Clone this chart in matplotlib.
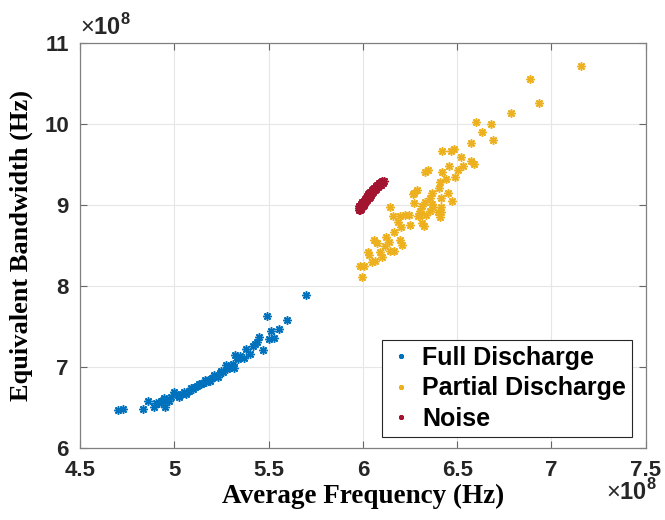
import matplotlib
matplotlib.use('Agg')
import matplotlib.pyplot as plt

# values, in units of 1e8 Hz
full_freq = [4.70, 4.727, 4.833, 4.86, 4.89, 4.905, 4.92, 4.93, 4.944, 4.953, 4.96, 4.97,
             4.98, 5.00, 5.02, 5.024, 5.04, 5.05, 5.06, 5.08, 5.09, 5.10, 5.11, 5.12,
             5.13, 5.14, 5.15, 5.165, 5.17, 5.18, 5.19, 5.20, 5.21, 5.22, 5.23, 5.245,
             5.25, 5.26, 5.276, 5.28, 5.29, 5.30, 5.31, 5.315, 5.324, 5.33, 5.34, 5.35,
             5.368, 5.38, 5.40, 5.42, 5.43, 5.44, 5.447, 5.47, 5.49, 5.50, 5.515, 5.53,
             5.555, 5.598, 5.70]
full_bw = [6.46, 6.48, 6.48, 6.57, 6.50, 6.55, 6.55, 6.58, 6.61, 6.50, 6.59, 6.57,
           6.62, 6.69, 6.65, 6.63, 6.66, 6.68, 6.66, 6.70, 6.73, 6.72, 6.75, 6.76,
           6.79, 6.78, 6.80, 6.83, 6.81, 6.84, 6.82, 6.86, 6.90, 6.88, 6.87, 6.92,
           6.95, 6.93, 7.02, 6.97, 7.00, 6.99, 7.03, 6.98, 7.14, 7.12, 7.10, 7.13,
           7.11, 7.22, 7.16, 7.25, 7.28, 7.30, 7.37, 7.20, 7.62, 7.34, 7.44, 7.35,
           7.46, 7.58, 7.88]

partial_freq = [5.995, 5.983, 6.008, 6.048, 6.066, 6.101, 6.025, 6.032, 6.089, 6.142,
                6.163, 6.119, 6.06, 6.075, 6.136, 6.207, 6.124, 6.195, 6.167, 6.202,
                6.252, 6.313, 6.326, 6.186, 6.16, 6.198, 6.225, 6.243, 6.295, 6.336,
                6.407, 6.145, 6.372, 6.304, 6.40, 6.269, 6.313, 6.414, 6.265, 6.304,
                6.357, 6.416, 6.331, 6.269, 6.366, 6.474, 6.416, 6.357, 6.287, 6.449,
                6.368, 6.404, 6.407, 6.442, 6.491, 6.329, 6.348, 6.421, 6.506, 6.458,
                6.532, 6.59, 6.573, 6.518, 6.421, 6.47, 6.483, 6.573, 6.688, 6.631,
                6.60, 6.679, 6.788, 6.884, 6.934, 7.156]
partial_bw = [8.11, 8.24, 8.24, 8.29, 8.31, 8.36, 8.42, 8.38, 8.42, 8.43,
              8.43, 8.49, 8.56, 8.53, 8.54, 8.50, 8.60, 8.57, 8.67, 8.72,
              8.75, 8.77, 8.74, 8.79, 8.86, 8.86, 8.88, 8.87, 8.86, 8.88,
              8.85, 8.97, 8.97, 8.92, 8.91, 9.02, 8.99, 9.09, 9.13, 8.87,
              8.92, 8.91, 9.03, 9.14, 9.01, 9.05, 8.97, 9.08, 9.18, 9.14,
              9.15, 9.21, 9.28, 9.32, 9.34, 9.41, 9.43, 9.41, 9.43, 9.48,
              9.475, 9.50, 9.54, 9.59, 9.66, 9.66, 9.69, 9.76, 9.80, 9.90,
              10.02, 10.00, 10.14, 10.56, 10.26, 10.72]

noise_freq = [5.978, 5.98, 5.982, 5.985, 5.988, 5.99, 5.99, 5.992, 5.995, 5.997,
              6.000, 6.002, 6.004, 6.006, 6.008, 6.010, 6.012, 6.014, 6.016, 6.018,
              6.020, 6.022, 6.024, 6.026, 6.028, 6.030, 6.032, 6.034, 6.036, 6.038,
              6.040, 6.042, 6.044, 6.046, 6.048, 6.050, 6.052, 6.055, 6.058, 6.060,
              6.063, 6.066, 6.068, 6.071, 6.074, 6.077, 6.080, 6.083, 6.086, 6.089,
              6.092, 6.095, 6.098, 6.101, 6.104, 6.107, 6.110]
noise_bw = [8.96, 8.93, 8.99, 8.94, 8.98, 9.01, 8.95, 8.97, 9.00, 9.03,
            8.99, 9.02, 9.05, 9.00, 9.04, 9.07, 9.03, 9.06, 9.09, 9.05,
            9.08, 9.11, 9.06, 9.10, 9.13, 9.08, 9.12, 9.14, 9.10, 9.13,
            9.16, 9.12, 9.15, 9.18, 9.14, 9.17, 9.19, 9.16, 9.19, 9.21,
            9.18, 9.21, 9.23, 9.20, 9.23, 9.25, 9.22, 9.25, 9.27, 9.24,
            9.27, 9.28, 9.25, 9.28, 9.29, 9.27, 9.29]

x_ticks = [4.5, 5, 5.5, 6, 6.5, 7, 7.5]
y_ticks = [6, 7, 8, 9, 10, 11]

plt.rcParams['mathtext.fontset'] = 'custom'
plt.rcParams['mathtext.rm'] = 'Liberation Sans'
plt.rcParams['mathtext.bf'] = 'Liberation Sans:bold'

fig = plt.figure(figsize=(6.65, 5.2), dpi=100)
ax = fig.add_axes([0.1203, 0.1394, 0.8507, 0.7779])

star = (8, 2, 0)
ax.plot(full_freq, full_bw, linestyle='none', marker=star, markersize=6, mew=1.1,
        color='#0072BD', label='Full Discharge')
ax.plot(partial_freq, partial_bw, linestyle='none', marker=star, markersize=6, mew=1.1,
        color='#EDB120', label='Partial Discharge')
ax.plot(noise_freq, noise_bw, linestyle='none', marker=star, markersize=6, mew=1.1,
        color='#A2142F', label='Noise')

ax.set_xlim(4.5, 7.5)
ax.set_ylim(6, 11)
ax.set_xticks(x_ticks)
ax.set_yticks(y_ticks)
ax.set_xticklabels([f'{t:g}' for t in x_ticks])
ax.set_yticklabels([f'{t:g}' for t in y_ticks])
for lab in ax.get_xticklabels() + ax.get_yticklabels():
    lab.set_fontfamily('Liberation Sans')
    lab.set_fontweight('bold')
    lab.set_fontsize(16)
    lab.set_color('#262626')

ax.grid(True, color='#e6e6e6', linewidth=0.8)
ax.set_axisbelow(True)
ax.tick_params(direction='in', top=True, right=True, length=5, width=0.8,
               color='#666666')
ax.tick_params(axis='x', pad=9)
ax.tick_params(axis='y', pad=8)
for sp in ax.spines.values():
    sp.set_color('#808080')
    sp.set_linewidth(0.9)

ax.set_xlabel('Average Frequency (Hz)', fontfamily='Liberation Serif',
              fontweight='bold', fontsize=19.5, labelpad=2)
ax.set_ylabel('Equivalent Bandwidth (Hz)', fontfamily='Liberation Serif',
              fontweight='bold', fontsize=19, labelpad=8)

# exponent labels, as MATLAB puts them
ax.text(0.0, 1.02, r'$\times\mathbf{10}^{\mathbf{8}}$', transform=ax.transAxes,
        fontsize=17, color='#262626', ha='left', va='baseline')
ax.text(1.02, -0.13, r'$\times\mathbf{10}^{\mathbf{8}}$', transform=ax.transAxes,
        fontsize=17, color='#262626', ha='right', va='baseline')

leg = ax.legend(loc='lower right', bbox_to_anchor=(0.976, 0.026), borderaxespad=0,
                prop={'family': 'Liberation Sans', 'weight': 'bold', 'size': 18},
                markerscale=0.6, fancybox=False, edgecolor='#262626',
                handlelength=1.0, handletextpad=0.35, labelspacing=0.25,
                borderpad=0.25, framealpha=1)
leg.get_frame().set_linewidth(0.8)

fig.savefig('out.png', dpi=100)
